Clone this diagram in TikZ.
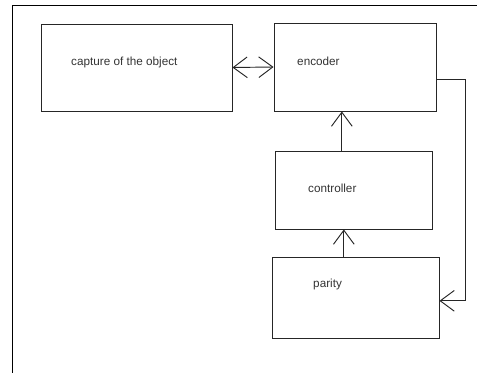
\documentclass[tikz,border=0pt]{standalone}
\usepackage{fontspec}
\setmainfont{Liberation Sans}
\usetikzlibrary{arrows.meta}

\begin{document}
\begin{tikzpicture}[
    x=0.03cm, y=-0.03cm,
    block/.style={rectangle, draw=black!85, line width=0.8pt, inner sep=0pt},
    txt/.style={anchor=base west, inner sep=0pt, text=black!80, font=\fontsize{10}{12}\selectfont},
    arrow/.style={draw=black!85, line width=0.8pt, -{Straight Barb[length=0.42cm, width=0.62cm]}},
    twoway/.style={draw=black!85, line width=0.8pt, {Straight Barb[length=0.42cm, width=0.62cm]}-{Straight Barb[length=0.42cm, width=0.62cm]}}
]
\useasboundingbox (0,0) rectangle (477,373);

% canvas edge
\draw[line width=0.8pt] (12,373) -- (12,5) -- (477,5);

% Nodes
\node (capture) [block, minimum width=5.73cm, minimum height=2.61cm] at (136.5,67.5) {};
\node (encoder) [block, minimum width=4.86cm, minimum height=2.64cm] at (355,67) {};
\node (controller) [block, minimum width=4.71cm, minimum height=2.34cm] at (353.5,190) {};
\node (parity) [block, minimum width=5.01cm, minimum height=2.43cm] at (355.5,297.5) {};

\node (capturetxt) [txt] at (71,66) {capture of the object};
\node (encodertxt) [txt] at (297,66) {encoder};
\node (controllertxt) [txt] at (308,193) {controller};
\node (paritytxt) [txt] at (313,287) {parity};

\coordinate (bend) at (465,79);

% Arrows
\draw [twoway] (capture.east) -- (encoder.west);
\draw [arrow] ([xshift=-0.35cm]controller.north) -- ([xshift=-0.35cm]controller.north |- encoder.south);
\draw [arrow] ([xshift=-0.35cm]parity.north) -- ([xshift=-0.35cm]parity.north |- controller.south);
\draw [arrow] (encoder.east |- bend) -- (bend) |- ([yshift=-0.1cm]parity.east);

\end{tikzpicture}
\end{document}
